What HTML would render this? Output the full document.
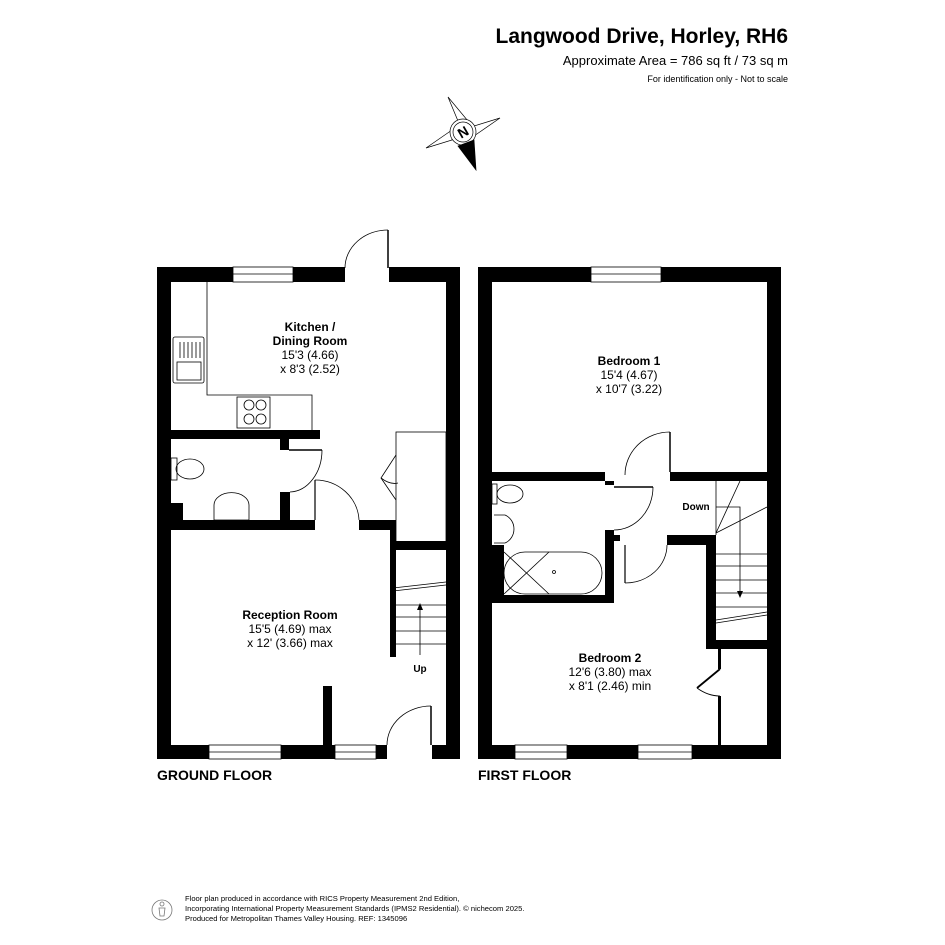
<!DOCTYPE html>
<html><head><meta charset="utf-8"><style>
html,body{margin:0;padding:0;background:#fff}
svg{display:block}
text{font-family:"Liberation Sans",Arial,sans-serif;fill:#000}
</style></head><body>
<svg width="945" height="945" viewBox="0 0 945 945" xmlns="http://www.w3.org/2000/svg">
<rect width="945" height="945" fill="#fff"/>
<text x="788" y="43" font-size="21" font-weight="bold" text-anchor="end">Langwood Drive, Horley, RH6</text>
<text x="788" y="65" font-size="13" text-anchor="end">Approximate Area = 786 sq ft / 73 sq m</text>
<text x="788" y="82" font-size="9" text-anchor="end">For identification only - Not to scale</text>
<g stroke="#000" stroke-width="0.7" fill="#fff">
<polygon points="448,97 458,121 468,121"/>
<polygon points="500,118 474,126 474,136"/>
<polygon points="426,148 452,140 452,130"/>
<circle cx="463" cy="132" r="13"/>
<circle cx="463" cy="132" r="10"/>
<polygon points="458,146 476,170 474,140" fill="#000"/>
</g>
<text x="463" y="137" font-size="14" font-weight="bold" text-anchor="middle" transform="rotate(-30 463 132)">N</text>

<g fill="#000">
<rect x="157" y="267" width="14" height="492"/>
<rect x="446" y="267" width="14" height="492"/>
<rect x="157" y="267" width="76" height="15"/>
<rect x="293" y="267" width="52" height="15"/>
<rect x="389" y="267" width="71" height="15"/>
<rect x="157" y="745" width="52" height="14"/>
<rect x="281" y="745" width="54" height="14"/>
<rect x="376" y="745" width="11" height="14"/>
<rect x="432" y="745" width="28" height="14"/>
<rect x="171" y="430" width="149" height="9"/>
<rect x="280" y="439" width="9" height="11"/>
<rect x="280" y="492" width="10" height="30"/>
<rect x="171" y="520" width="144" height="10"/>
<rect x="171" y="503" width="12" height="20"/>
<rect x="359" y="520" width="37" height="10"/>
<rect x="390" y="520" width="6" height="137"/>
<rect x="390" y="541" width="56" height="9"/>
<rect x="323" y="686" width="9" height="60"/>
</g>
<g fill="none" stroke="#000" stroke-width="0.8">
<rect x="233" y="267" width="60" height="15"/><line x1="233" y1="274" x2="293" y2="274"/>
<rect x="209" y="745" width="72" height="14"/><line x1="209" y1="752" x2="281" y2="752"/>
<rect x="335" y="745" width="41" height="14"/><line x1="335" y1="752" x2="376" y2="752"/>
<line x1="388" y1="230" x2="388" y2="268" stroke-width="1.5"/>
<path d="M345,268 A43,38 0 0 1 388,230"/>
<line x1="431" y1="706" x2="431" y2="745" stroke-width="1.5"/>
<path d="M387,745 A44,39 0 0 1 431,706"/>
<line x1="289" y1="450" x2="322" y2="450" stroke-width="1.5"/>
<path d="M322,450 A33,42 0 0 1 290,492"/>
<path d="M315,480 A44,42 0 0 1 359,520"/>
<line x1="315" y1="480" x2="315" y2="520" stroke-width="1.2"/>
<polyline points="207,282 207,395 312,395 312,430"/>
<rect x="173" y="337" width="31" height="46" rx="2"/>
<line x1="180" y1="342" x2="180" y2="358"/><line x1="184" y1="342" x2="184" y2="358"/><line x1="188" y1="342" x2="188" y2="358"/><line x1="192" y1="342" x2="192" y2="358"/><line x1="196" y1="342" x2="196" y2="358"/><line x1="200" y1="342" x2="200" y2="358"/>
<rect x="177" y="362" width="24" height="18"/>
<rect x="237" y="397" width="33" height="31"/>
<circle cx="249" cy="405" r="5"/><circle cx="261" cy="405" r="5"/><circle cx="249" cy="419" r="5"/><circle cx="261" cy="419" r="5"/>
<rect x="171" y="458" width="6" height="22"/>
<ellipse cx="190" cy="469" rx="14" ry="10"/>
<path d="M214,520 L214,505 A17,12 0 0 1 249,505 L249,520 Z"/>
<rect x="396" y="432" width="50" height="110"/>
<polyline points="396,455 381,478 396,500"/>
<path d="M381,478 Q390,485 398,483"/>
<line x1="393" y1="588" x2="446" y2="582"/><line x1="393" y1="591" x2="446" y2="585"/>
<line x1="396" y1="605" x2="446" y2="605"/><line x1="396" y1="617" x2="446" y2="617"/><line x1="396" y1="631" x2="446" y2="631"/><line x1="396" y1="644" x2="446" y2="644"/>
<line x1="420" y1="655" x2="420" y2="607"/>
</g>
<polygon points="420,603 417,610 423,610" fill="#000"/>
<text x="420" y="672" font-size="10" font-weight="bold" text-anchor="middle">Up</text>

<text x="310" y="331" font-size="12" font-weight="bold" text-anchor="middle">Kitchen /</text>
<text x="310" y="345" font-size="12" font-weight="bold" text-anchor="middle">Dining Room</text>
<text x="310" y="359" font-size="12" text-anchor="middle">15'3 (4.66)</text>
<text x="310" y="373" font-size="12" text-anchor="middle">x 8'3 (2.52)</text>
<text x="290" y="619" font-size="12" font-weight="bold" text-anchor="middle">Reception Room</text>
<text x="290" y="633" font-size="12" text-anchor="middle">15'5 (4.69) max</text>
<text x="290" y="647" font-size="12" text-anchor="middle">x 12' (3.66) max</text>
<text x="157" y="780" font-size="14" font-weight="bold">GROUND FLOOR</text>

<g fill="#000">
<rect x="478" y="267" width="14" height="492"/>
<rect x="767" y="267" width="14" height="492"/>
<rect x="478" y="267" width="113" height="15"/>
<rect x="661" y="267" width="120" height="15"/>
<rect x="478" y="745" width="37" height="14"/>
<rect x="567" y="745" width="71" height="14"/>
<rect x="692" y="745" width="89" height="14"/>
<rect x="492" y="472" width="113" height="9"/>
<rect x="605" y="481" width="9" height="4"/>
<rect x="670" y="472" width="97" height="9"/>
<rect x="605" y="530" width="9" height="73"/>
<rect x="614" y="535" width="6" height="6"/>
<rect x="492" y="595" width="122" height="8"/>
<rect x="492" y="545" width="12" height="58"/>
<rect x="667" y="535" width="49" height="10"/>
<rect x="706" y="535" width="10" height="113"/>
<rect x="706" y="640" width="61" height="9"/>
<rect x="718" y="649" width="3" height="20"/>
<rect x="718" y="696" width="3" height="50"/>
</g>
<g fill="none" stroke="#000" stroke-width="0.8">
<rect x="591" y="267" width="70" height="15"/><line x1="591" y1="274" x2="661" y2="274"/>
<rect x="515" y="745" width="52" height="14"/><line x1="515" y1="752" x2="567" y2="752"/>
<rect x="638" y="745" width="54" height="14"/><line x1="638" y1="752" x2="692" y2="752"/>
<line x1="670" y1="432" x2="670" y2="472" stroke-width="1.5"/>
<path d="M625,475 A45,43 0 0 1 670,432"/>
<line x1="614" y1="487" x2="653" y2="487" stroke-width="1.5"/>
<path d="M653,487 A39,43 0 0 1 614,530"/>
<line x1="625" y1="545" x2="625" y2="583" stroke-width="1.2"/>
<path d="M625,583 A42,38 0 0 0 667,545"/>
<line x1="720" y1="669" x2="697" y2="688" stroke-width="1.8"/>
<path d="M697,688 Q708,696 720,696"/>
<rect x="492" y="484" width="5" height="20"/>
<ellipse cx="510" cy="494" rx="13" ry="9"/>
<path d="M494,515 L505,515 A14,15 0 0 1 505,543 L494,543"/>
<rect x="504" y="552" width="98" height="42" rx="21"/>
<line x1="504" y1="552" x2="549" y2="594"/><line x1="504" y1="594" x2="549" y2="552"/>
<circle cx="554" cy="572" r="1.5"/>
<line x1="716" y1="533" x2="740" y2="481"/>
<line x1="716" y1="533" x2="767" y2="507"/>
<polyline points="716,507 740,507 740,593"/>
<line x1="716" y1="554" x2="767" y2="554"/><line x1="716" y1="566" x2="767" y2="566"/><line x1="716" y1="580" x2="767" y2="580"/><line x1="716" y1="593" x2="767" y2="593"/><line x1="716" y1="607" x2="767" y2="607"/>
<line x1="716" y1="620" x2="767" y2="612"/><line x1="716" y1="623" x2="767" y2="615"/>
<line x1="716" y1="481" x2="716" y2="535"/>
</g>
<polygon points="740,598 737,591 743,591" fill="#000"/>
<text x="696" y="510" font-size="10" font-weight="bold" text-anchor="middle">Down</text>

<text x="629" y="365" font-size="12" font-weight="bold" text-anchor="middle">Bedroom 1</text>
<text x="629" y="379" font-size="12" text-anchor="middle">15'4 (4.67)</text>
<text x="629" y="393" font-size="12" text-anchor="middle">x 10'7 (3.22)</text>
<text x="610" y="662" font-size="12" font-weight="bold" text-anchor="middle">Bedroom 2</text>
<text x="610" y="676" font-size="12" text-anchor="middle">12'6 (3.80) max</text>
<text x="610" y="690" font-size="12" text-anchor="middle">x 8'1 (2.46) min</text>
<text x="478" y="780" font-size="14" font-weight="bold">FIRST FLOOR</text>

<g fill="none" stroke="#777" stroke-width="0.8">
<circle cx="162" cy="910" r="10"/>
<circle cx="162" cy="904" r="2"/>
<path d="M159,908 L165,908 L164,916 L160,916 Z"/>
</g>
<g font-size="7.6">
<text x="185" y="901" fill="#666">Floor plan produced in accordance with RICS Property Measurement 2nd Edition,</text>
<text x="185" y="911" fill="#666">Incorporating International Property Measurement Standards (IPMS2 Residential).   © nichecom 2025.</text>
<text x="185" y="921" fill="#666">Produced for Metropolitan Thames Valley Housing.   REF:  1345096</text>
</g>
</svg>
</body></html>
